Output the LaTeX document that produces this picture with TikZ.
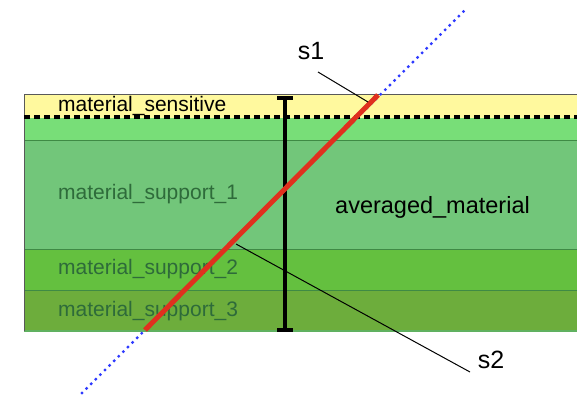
\documentclass[tikz,border=0pt]{standalone}
\usepackage{fontspec}
\setmainfont{Liberation Sans}
\usepackage{tikz,xcolor}
\usetikzlibrary{calc}

\definecolor{sensyellow}{HTML}{FFF99E}
\definecolor{supgreen0}{HTML}{78DE78}
\definecolor{supgreen1}{HTML}{72C67A}
\definecolor{supgreen2}{HTML}{64C03F}
\definecolor{supgreen3}{HTML}{6DAD3C}
\definecolor{edgegreen}{HTML}{3F8A45}
\definecolor{labelgreen}{HTML}{2E6B3A}
\definecolor{rayblue}{HTML}{2F3BFF}
\definecolor{trackred}{HTML}{E0301E}

\tikzset{
  layertext/.style={anchor=west, text=labelgreen, font=\fontsize{21}{25}\selectfont, inner sep=0pt},
  bigtext/.style={font=\fontsize{23.5}{28}\selectfont, inner sep=0pt},
  leader/.style={black, line width=1pt}
}

\begin{document}
\begin{tikzpicture}[x=1pt,y=-1pt]
\useasboundingbox (0,0) rectangle (577,398);

% the layers
\fill[sensyellow] (24,95) rectangle (577,118);
\fill[supgreen0] (24,118) rectangle (577,141);
\fill[supgreen1] (24,141) rectangle (577,249);
\fill[supgreen2] (24,249) rectangle (577,290);
\fill[supgreen3] (24,290) rectangle (577,331);
\draw[edgegreen, line width=1pt] (24,141) -- (577,141);
\draw[edgegreen, line width=1pt] (24,249) -- (577,249);
\draw[edgegreen, line width=1pt] (24,290) -- (577,290);
\draw[supgreen0!80!black, line width=1.2pt] (24,331) -- (577,331);
\draw[gray!70!black, line width=1pt] (577,95) -- (24,95) -- (24,331);
% sensitive boundary
\draw[black, line width=3.2pt, dash pattern=on 6pt off 4pt] (24,117) -- (577,117);

% labels
\node[anchor=west, inner sep=0pt, font=\fontsize{21}{25}\selectfont] (sens) at (58,106) {material\_sensitive};
\node[layertext] (sup1) at (58,194) {material\_support\_1};
\node[layertext] (sup2) at (58,269) {material\_support\_2};
\node[layertext] (sup3) at (58,311) {material\_support\_3};
\node[bigtext, anchor=west] (avg) at (335,207) {averaged\_material};

% thickness bar
\draw[black, line width=4.2pt] (285,97) -- (285,331);
\draw[black, line width=3.4pt] (277,98) -- (293,98);
\draw[black, line width=3.4pt] (277,330) -- (293,330);

% the track
\coordinate (rayin) at (82,393);
\coordinate (rayout) at (465,10);
\coordinate (trkin) at (145,330);
\coordinate (trkout) at (378,95);
\draw[rayblue, line width=3.4pt, line cap=round, dash pattern=on 0pt off 6.5pt] (rayin) -- (rayout);
\draw[trackred, line width=5pt] (trkin) -- (trkout);

% s1 and s2
\node[bigtext, font=\fontsize{25}{30}\selectfont] (s1) at (311,51) {s1};
\node[bigtext, font=\fontsize{25}{30}\selectfont] (s2) at (491,360) {s2};
\coordinate (s1foot) at (318,72);
\coordinate (s2foot) at (470,372);
\coordinate (s1end) at (368,102);
\coordinate (s2end) at (236,244);
\draw[leader] (s1foot) -- (s1end);
\draw[leader] (s2foot) -- (s2end);
\end{tikzpicture}
\end{document}
